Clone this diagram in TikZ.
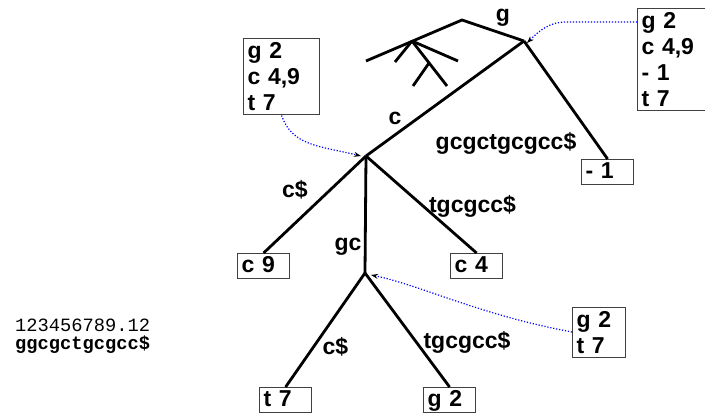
\documentclass[tikz,border=0pt]{standalone}
\usepackage{fontspec}
\setmainfont{Liberation Sans}
\newfontfamily\seqfont{Liberation Mono}
\usetikzlibrary{arrows.meta}
\tikzset{
    branch/.style={line width=2.8pt},
    edgelabel/.style={anchor=base, inner sep=0pt, font=\fontsize{23}{26}\selectfont\bfseries},
    leafbox/.style={draw=black!75, line width=1.2pt, anchor=north west, inner xsep=4pt, inner ysep=2pt,
        text width=44pt, text height=17pt, text depth=4pt, align=left, font=\fontsize{23}{26}\selectfont\bfseries},
    listbox/.style={draw=black!75, line width=1.2pt, anchor=north west, inner xsep=4pt, inner ysep=4pt,
        align=left, font=\fontsize{23}{26}\selectfont\bfseries},
    pointer/.style={blue, line width=1.2pt, dash pattern=on 1.2pt off 1.8pt, -{Stealth[black, length=7pt, width=5pt]}}
}
\begin{document}
\begin{tikzpicture}[x=1pt, y=-1pt]
                    \useasboundingbox (0,0) rectangle (705,414);
                    % inner nodes of the tree
                    \path   coordinate (root) at (462, 20)
                            coordinate (gn) at (524, 41)
                            coordinate (cn) at (366, 156)
                            coordinate (gcn) at (365, 273)
                            coordinate (sa) at (412, 41)
                            coordinate (sb) at (366, 61)
                            coordinate (sc) at (395, 62)
                            coordinate (sd) at (458, 61)
                            coordinate (se) at (429, 63)
                            coordinate (sf) at (413, 86)
                            coordinate (sg) at (447, 86);
                    % leaves and position lists
                    \path   node[leafbox] (m1) at (581, 159) {- 1}
                            node[leafbox] (c9) at (237, 253) {c 9}
                            node[leafbox] (c4) at (450, 253) {c 4}
                            node[leafbox] (t7) at (259, 387) {t 7}
                            node[leafbox] (g2) at (423, 387) {g 2}
                            node[listbox, text width=68pt] (lc) at (243, 38) {g 2\\c 4,9\\t 7}
                            node[listbox, text width=64pt] (lg) at (637, 8) {g 2\\c 4,9\\- 1\\t 7}
                            node[listbox, text width=45pt] (lgc) at (572, 307) {g 2\\t 7};
                    % edge labels
                    \path   node[edgelabel] (eg) at (503, 22) {g}
                            node[edgelabel] (ec) at (395, 125) {c}
                            node[edgelabel] (egc) at (506, 150) {gcgctgcgcc\$}
                            node[edgelabel] (ecd) at (295, 198) {c\$}
                            node[edgelabel] (et) at (472.5, 213) {tgcgcc\$}
                            node[edgelabel] (egg) at (348, 251) {gc}
                            node[edgelabel] (ecd2) at (335.5, 355) {c\$}
                            node[edgelabel] (et2) at (467, 349) {tgcgcc\$};
                    % the string
                    \path   node[anchor=base west, inner sep=0pt, font=\seqfont\fontsize{18.75}{20}\selectfont] (idx) at (15, 332) {123456789.12}
                            node[anchor=base west, inner sep=0pt, font=\seqfont\bfseries\fontsize{18.75}{20}\selectfont] (str) at (15, 350) {ggcgctgcgcc\$};
                    \draw[branch] (sb) -- (root) -- (gn);
                    \draw[branch] (sa) -- (sc);
                    \draw[branch] (sa) -- (sd);
                    \draw[branch] (sa) -- (sg);
                    \draw[branch] (se) -- (sf);
                    \draw[branch] (gn) -- (cn);
                    \draw[branch] (gn) -- (m1.north);
                    \draw[branch] (cn) -- (c9.north);
                    \draw[branch] (cn) -- (c4.north);
                    \draw[branch] (cn) -- (gcn);
                    \draw[branch] (gcn) -- (t7.north);
                    \draw[branch] (gcn) -- (g2.north);
                    \draw[pointer] ([yshift=-14pt]lg.north west) -- (566, 22) .. controls (550, 22) and (540, 30) .. ([shift={(3pt,-2pt)}]gn);
                    \draw[pointer] (lc.south) .. controls (292, 146) and (320, 146) .. ([xshift=-5pt]cn);
                    \draw[pointer] ([yshift=-25pt]lgc.north west) .. controls (480, 315) and (420, 285) .. ([shift={(6pt,-2pt)}]gcn);
                \end{tikzpicture}
\end{document}
